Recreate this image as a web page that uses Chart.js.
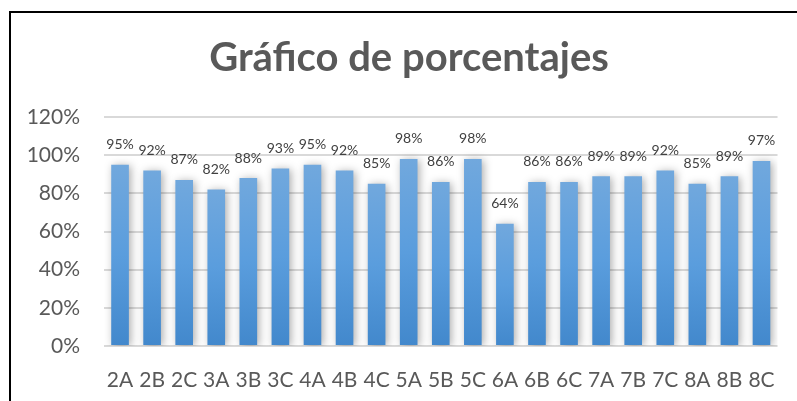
<!DOCTYPE html>
<html>
<head>
<meta charset="utf-8">
<script src="https://cdn.jsdelivr.net/npm/chart.js@4"></script>
<style>
  html, body { margin: 0; padding: 0; background: #fff; overflow: hidden; }
  #wrap { position: absolute; left: 0; top: 0; width: 797px; height: 401px; }
  #frame { position: absolute; left: 9px; top: 11px; width: 900px; height: 500px; border: 2px solid #000; box-sizing: border-box; }
</style>
</head>
<body>
<div id="frame"></div>
<div id="wrap"><canvas id="c" width="797" height="401"></canvas></div>
<script>
const categories = ["2A","2B","2C","3A","3B","3C","4A","4B","4C","5A","5B","5C","6A","6B","6C","7A","7B","7C","8A","8B","8C"];
const values = [95,92,87,82,88,93,95,92,85,98,86,98,64,86,86,89,89,92,85,89,97];
const yTicks = [0,20,40,60,80,100,120];
const titleText = "Gráfico de porcentajes";

const FONT = "Lato, 'Open Sans', sans-serif";

const shadowPlugin = {
  id: 'barShadow',
  beforeDatasetsDraw(chart) {
    const ctx = chart.ctx;
    ctx.save();
    ctx.shadowColor = 'rgba(0,0,0,0.33)';
    ctx.shadowBlur = 8;
    ctx.shadowOffsetX = 2;
    ctx.shadowOffsetY = 1;
  },
  afterDatasetsDraw(chart) {
    chart.ctx.restore();
    const ctx = chart.ctx;
    ctx.save();
    ctx.font = "14px " + FONT;
    ctx.fillStyle = '#404040';
    ctx.textAlign = 'center';
    ctx.textBaseline = 'middle';
    const meta = chart.getDatasetMeta(0);
    meta.data.forEach((bar, i) => {
      ctx.fillText(values[i] + '%', bar.x, bar.y - 20);
    });
    ctx.restore();
  },
  afterDraw(chart) {
    const ctx = chart.ctx;
    ctx.save();
    ctx.font = "bold 40px " + FONT;
    ctx.fillStyle = '#595959';
    ctx.textAlign = 'center';
    ctx.textBaseline = 'middle';
    ctx.fillText(titleText, 409, 58);
    ctx.restore();
  }
};

new Chart(document.getElementById('c'), {
  type: 'bar',
  data: {
    labels: categories,
    datasets: [{
      data: values,
      barPercentage: 0.55,
      categoryPercentage: 1.0,
      backgroundColor: (context) => {
        const chart = context.chart;
        const ys = chart.scales && chart.scales.y;
        if (!chart.chartArea || !ys || context.raw === undefined) return '#5b9bd5';
        const top = ys.getPixelForValue(context.raw);
        const bottom = ys.getPixelForValue(0);
        if (!isFinite(top) || !isFinite(bottom) || top === bottom) return '#5b9bd5';
        const g = chart.ctx.createLinearGradient(0, top, 0, bottom);
        g.addColorStop(0, '#71a8dd');
        g.addColorStop(0.5, '#5a9ddd');
        g.addColorStop(1, '#4288cc');
        return g;
      },
      borderWidth: 0
    }]
  },
  options: {
    responsive: false,
    animation: false,
    layout: { padding: { left: 0, right: 17, top: 117, bottom: 0 } },
    plugins: {
      legend: { display: false },
      tooltip: { enabled: false },
      title: { display: false }
    },
    scales: {
      x: {
        grid: { display: false, drawTicks: false },
        border: { display: false },
        ticks: { color: '#595959', font: { family: FONT, size: 21 }, padding: 22, maxRotation: 0, autoSkip: false },
        afterFit: (s) => { s.height = 55; }
      },
      y: {
        min: 0, max: 120,
        afterBuildTicks: (s) => { s.ticks = yTicks.map(v => ({ value: v })); },
        grid: { color: '#d9d9d9', lineWidth: 2, drawTicks: false },
        border: { display: false },
        ticks: { color: '#595959', font: { family: FONT, size: 21 }, padding: 24, callback: (v) => v + '%' },
        afterFit: (s) => { s.width = 104; }
      }
    }
  },
  plugins: [shadowPlugin]
});
</script>
</body>
</html>
